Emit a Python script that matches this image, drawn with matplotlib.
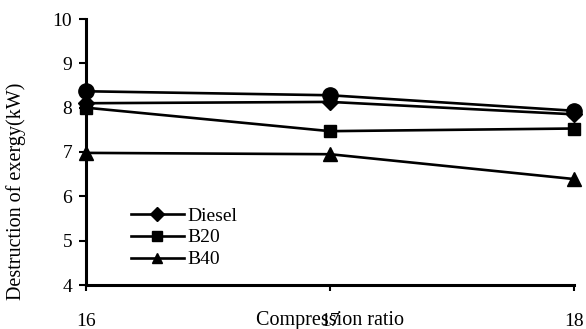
import matplotlib
matplotlib.use("Agg")
import matplotlib.pyplot as plt

compression_ratio = [16, 17, 18]
diesel = [8.10, 8.13, 7.85]
b20 = [8.00, 7.47, 7.53]
b40 = [6.98, 6.95, 6.39]
unlabeled = [8.37, 8.28, 7.93]
y_ticks = [4, 5, 6, 7, 8, 9, 10]

plt.rcParams['font.family'] = ['Liberation Serif', 'DejaVu Serif']

fig = plt.figure(figsize=(5.86, 3.29), dpi=100)
ax = fig.add_axes([86/586, 1-285/329, (574-86)/586, (285-19)/329])

lw = 1.9
ax.plot(compression_ratio, unlabeled, color='black', lw=lw, marker='o', markersize=11,
        label='_nolegend_', clip_on=False, zorder=3)
ax.plot(compression_ratio, diesel, color='black', lw=lw, marker='D', markersize=8,
        label='Diesel', clip_on=False, zorder=3)
ax.plot(compression_ratio, b20, color='black', lw=lw, marker='s', markersize=9,
        label='B20', clip_on=False, zorder=3)
ax.plot(compression_ratio, b40, color='black', lw=lw, marker='^', markersize=10,
        label='B40', clip_on=False, zorder=3)

ax.set_xlim(16, 18)
ax.set_ylim(4, 10)
ax.set_xticks(compression_ratio)
ax.set_yticks(y_ticks)
ax.tick_params(axis='x', direction='out', length=4, width=1.5, pad=16, labelsize=14)
ax.tick_params(axis='y', direction='out', length=5, width=1.5, pad=5, labelsize=14)

for s in ['top', 'right']:
    ax.spines[s].set_visible(False)
for s in ['left', 'bottom']:
    ax.spines[s].set_linewidth(2.2)

ax.set_xlabel('Compression ratio', fontsize=14.5, va='center')
ax.xaxis.set_label_coords(0.5, (285-320)/266)
ax.set_ylabel('Destruction of exergy(kW)', fontsize=14.5, va='center')
ax.yaxis.set_label_coords((16-86)/488, (285-191)/266)

leg = ax.legend(loc='upper left', bbox_to_anchor=(45/488, 1-(207-19)/266),
                frameon=False, fontsize=14, handlelength=2.7, handletextpad=0.2,
                labelspacing=0.22, borderaxespad=0, borderpad=0)
for h in leg.legend_handles:
    h.set_markersize(7)

fig.savefig('out.png', dpi=100)
